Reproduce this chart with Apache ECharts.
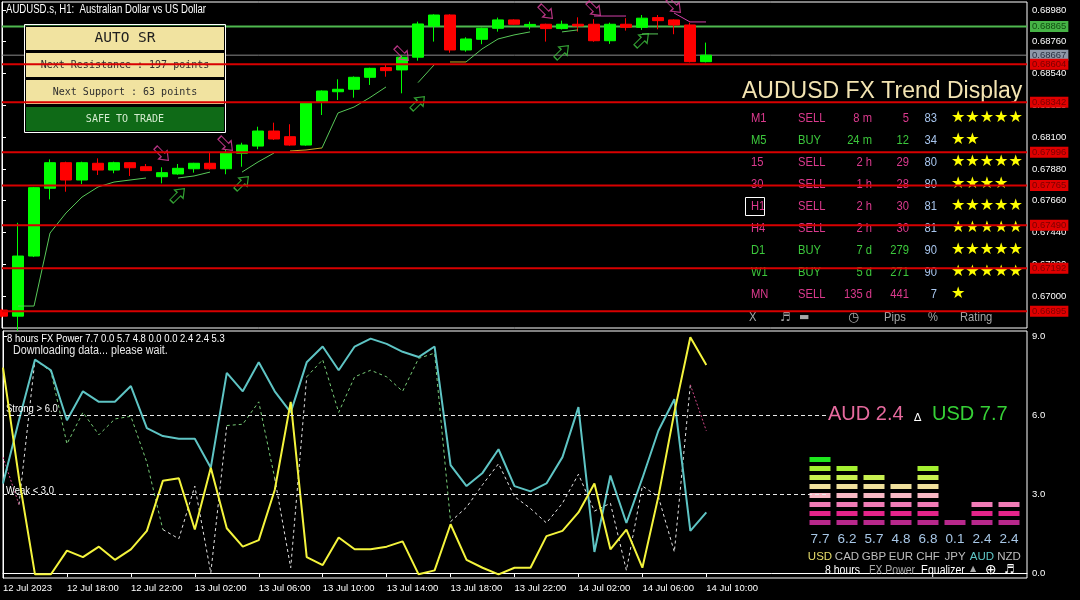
<!DOCTYPE html>
<html><head><meta charset="utf-8">
<script src="https://cdn.jsdelivr.net/npm/echarts@6/dist/echarts.min.js"></script>
<style>html,body{margin:0;padding:0;background:#000;}#c{width:1080px;height:600px;}</style>
</head><body><div id="c"></div>
<script>
// ---------- price candles (H1, index 0 = 12 Jul 14:00) ----------
const opens  = [0.66903,0.66861,0.67277,0.67746,0.67923,0.67803,0.67919,0.67872,0.67923,0.67895,
                0.67826,0.67845,0.67881,0.67919,0.67881,0.67988,0.68038,0.68142,0.68103,0.68045,
                0.68345,0.68414,0.68431,0.68514,0.68581,0.68565,0.68653,0.68869,0.68945,0.68703,
                0.68777,0.68853,0.68911,0.68869,0.68881,0.68851,0.68881,0.68881,0.68767,0.68881,
                0.68860,0.68927,0.68911,0.68876,0.68622];
const closes = [0.66861,0.67277,0.67750,0.67923,0.67803,0.67923,0.67872,0.67923,0.67888,0.67868,
                0.67854,0.67884,0.67919,0.67881,0.67992,0.68045,0.68142,0.68087,0.68045,0.68338,
                0.68419,0.68431,0.68514,0.68576,0.68560,0.68653,0.68883,0.68945,0.68703,0.68779,
                0.68853,0.68911,0.68881,0.68880,0.68851,0.68881,0.68869,0.68767,0.68881,0.68860,
                0.68923,0.68906,0.68876,0.68622,0.68667];
const lows   = [0.66850,0.66760,0.67270,0.67669,0.67722,0.67775,0.67838,0.67850,0.67831,0.67865,
                0.67780,0.67840,0.67854,0.67875,0.67843,0.67895,0.68016,0.68080,0.68040,0.68040,
                0.68253,0.68357,0.68373,0.68461,0.68518,0.68403,0.68629,0.68761,0.68684,0.68691,
                0.68743,0.68830,0.68878,0.68846,0.68761,0.68845,0.68830,0.68760,0.68745,0.68837,
                0.68842,0.68846,0.68812,0.68617,0.68617];
const highs  = [0.66912,0.67507,0.67755,0.67946,0.67930,0.67930,0.67953,0.67930,0.67926,0.67914,
                0.67891,0.67914,0.67922,0.67992,0.68011,0.68061,0.68172,0.68200,0.68189,0.68343,
                0.68423,0.68500,0.68520,0.68580,0.68599,0.68668,0.68899,0.68950,0.68950,0.68791,
                0.68858,0.68927,0.68915,0.68899,0.68885,0.68906,0.68929,0.68916,0.68892,0.68923,
                0.68945,0.68945,0.68915,0.68892,0.68754];

// trailing lines (null = gap)
const greenTrail = [null,0.66931,0.66931,0.67436,0.67575,0.67685,0.67755,0.67789,0.67803,0.67817,
                    null,0.67817,0.67831,0.67858,null,0.67858,0.67928,0.67990,null,null,
                    0.68025,0.68267,0.68308,0.68374,0.68447,null,0.68477,0.68599,null,0.68620,
                    0.68710,0.68779,0.68807,0.68828,null,0.68828,0.68842,null,null,null,
                    0.68814,0.68814,null,null,null];
const yellowTrail = [null,null,null,null,null,null,null,null,null,null,
                     null,null,null,null,null,null,null,null,0.68004,0.68011,
                     0.68025,null,null,null,null,null,null,null,0.68620,0.68620,
                     null,null,null,null,null,null,null,null,null,null,
                     null,null,null,null,null];
const magentaTrail = [null,null,null,null,null,null,null,null,null,null,
                      null,null,null,null,null,null,null,null,null,null,
                      null,null,null,null,null,null,null,null,null,null,
                      null,null,null,null,null,null,null,0.68938,0.68938,0.68938,
                      null,null,0.68959,0.68897,0.68897];

// signal arrows
const sellArrowK = [10,14,25,34,37,42];
const sellArrowP = [0.67983,0.68052,0.68675,0.68966,0.68987,0.69008];
const buyArrowK  = [1,11,15,26,35,40];
const buyArrowP  = [0.66765,0.67699,0.67782,0.68336,0.68689,0.68772];

// support / resistance levels
const resistLevel = 0.68865;
const bidLevel = 0.68667;
const srLevels = [0.68604,0.68342,0.67996,0.67765,0.67490,0.67192,0.66895];

// axes ticks
const priceTicks = [0.67000,0.67220,0.67440,0.67660,0.67880,0.68100,0.68320,0.68540,0.68760,0.68980];
const timeTickK = [0,4,8,12,16,20,24,28,32,36,40,44];
const timeLabels = ['12 Jul 2023','12 Jul 18:00','12 Jul 22:00','13 Jul 02:00','13 Jul 06:00','13 Jul 10:00',
                    '13 Jul 14:00','13 Jul 18:00','13 Jul 22:00','14 Jul 02:00','14 Jul 06:00','14 Jul 10:00'];
const powerTicks = [0,3,6,9];

// FX power panel lines
const usdPower = [3.4,5.8,8.1,7.7,5.8,6.9,6.5,6.5,7.1,5.5, 5.2,5.1,5.1,4.0,7.6,6.9,8.0,6.9,6.1,8.0,
                  8.6,7.7,8.6,8.9,8.7,8.4,8.2,8.6,4.1,3.3, 3.8,4.7,3.3,3.1,3.4,4.4,6.3,0.8,3.7,1.9,
                  3.6,5.4,6.6,1.6,2.3];
const audPower = [7.8,3.6,-0.05,-0.05,0.85,0.6,1.0,0.5,0.9,1.6, 3.5,3.6,1.65,4.0,1.7,1.0,1.25,3.15,6.5,0.6,
                  0.3,1.35,0.9,0.9,1.0,1.2,-0.05,0.1,1.85,0.5, 0.2,-0.05,0.2,0.2,1.4,1.6,2.3,3.4,0.9,1.65,
                  0.2,2.9,6.1,8.95,7.9];
const diffPower = [4.4,2.6,8.1,7.65,4.9,6.1,5.25,5.85,5.95,4.2, 1.65,1.3,3.3,0.0,5.6,5.65,6.5,3.6,0.2,7.45,
                   8.1,6.1,7.45,7.7,7.45,6.9,8.15,8.35,1.95,2.5, 3.35,4.15,2.9,2.45,1.9,2.65,3.75,2.35,2.65,0.1,
                   3.3,2.9,0.8,7.15,5.4];
const diffSegColor = 'pwggggggggwwwwgggwwgggggggggwwwwwwwwwwwwwwwp'.split('');
const strongLevel = 6.0, weakLevel = 3.0;

// equalizer
const eqCurrencies = ['USD','CAD','GBP','EUR','CHF','JPY','AUD','NZD'];
const eqValues = [7.7,6.2,5.7,4.8,6.8,0.1,2.4,2.4];
const eqLevels = [8,7,6,5,7,1,3,3];

// trend table
const tfNames   = ['M1','M5','15','30','H1','H4','D1','W1','MN'];
const tfSignals = ['SELL','BUY','SELL','SELL','SELL','SELL','BUY','BUY','SELL'];
const tfAges    = ['8 m','24 m','2 h','1 h','2 h','2 h','7 d','5 d','135 d'];
const tfPips    = [5,12,29,28,30,30,279,271,441];
const tfPct     = [83,34,80,80,81,81,90,90,7];
const tfStars   = [5,2,5,4,5,5,5,5,1];

// ---------- chart ----------
const FONT = "'Liberation Sans', Arial, sans-serif";
const MONO = "'DejaVu Sans Mono', monospace";
const DJV = "'DejaVu Sans', sans-serif";
const chart = echarts.init(document.getElementById('c'));

const toPts = arr => arr.map((v,k) => v == null ? [k,'-'] : [k,v]);
const XMAX = 64.0625;

const series = [];
function levelLine(v, color, width, z, labBg, labColor){
  series.push({type:'line', xAxisIndex:0, yAxisIndex:0, z, silent:true, showSymbol:false, clip:false,
    data:[[0,v],[XMAX,v]], lineStyle:{color, width, type:'solid'},
    endLabel:{show:true, formatter:()=>v.toFixed(5), backgroundColor:labBg, color:labColor,
      fontSize:9.5, fontFamily:FONT, padding:[1,2,0,2], distance:3}});
}
levelLine(resistLevel, '#4fb84f', 2, 1, '#46b446', '#114d11');
levelLine(bidLevel, '#8a8a8a', 1, 1, '#8e98a8', '#2a3140');
series.push({type:'candlestick', xAxisIndex:0, yAxisIndex:0, z:2, barWidth:11, clip:true,
  encode:{x:0, y:[1,2,3,4]},
  data: opens.map((o,k)=>[k,o,closes[k],lows[k],highs[k]]),
  itemStyle:{color:'#00ff00', color0:'#ff0000', borderColor:'#00ff00', borderColor0:'#ff0000', borderWidth:1}});
series.push({type:'line', xAxisIndex:0, yAxisIndex:0, z:3, data:toPts(greenTrail), showSymbol:false, lineStyle:{color:'#58c858', width:1}});
series.push({type:'line', xAxisIndex:0, yAxisIndex:0, z:3, data:toPts(yellowTrail), showSymbol:false, lineStyle:{color:'#c8a828', width:1}});
series.push({type:'line', xAxisIndex:0, yAxisIndex:0, z:3, data:toPts(magentaTrail), showSymbol:false, lineStyle:{color:'#d040a8', width:1}});
const ARROW = 'path://M5,0 L10,6 L7,6 L7,14 L3,14 L3,6 L0,6 Z';
series.push({type:'scatter', xAxisIndex:0, yAxisIndex:0, z:4, symbol:ARROW, symbolSize:[12,18], symbolRotate:-135,
  data: sellArrowK.map((k,i)=>[k,sellArrowP[i]]), itemStyle:{color:'rgba(0,0,0,0)', borderColor:'#e040a0', borderWidth:1.2}});
series.push({type:'scatter', xAxisIndex:0, yAxisIndex:0, z:4, symbol:ARROW, symbolSize:[12,18], symbolRotate:-45,
  data: buyArrowK.map((k,i)=>[k,buyArrowP[i]]), itemStyle:{color:'rgba(0,0,0,0)', borderColor:'#40c840', borderWidth:1.2}});
srLevels.forEach(v => levelLine(v, '#d80000', 2, 6, '#e00000', '#7a0000'));

const segStyle = {g:{color:'#78cc78', type:[3,3]}, w:{color:'#e4e4e4', type:[3,3]}, p:{color:'#d04888', type:[2,2]}};
['g','w','p'].forEach(c=>{
  const d = [];
  for (let k=0;k<diffSegColor.length;k++){
    if (diffSegColor[k]!==c) continue;
    if (d.length && d[d.length-1][0]!==k) d.push(['-','-']);
    if (!d.length || d[d.length-1][0]!==k) d.push([k,diffPower[k]]);
    d.push([k+1,diffPower[k+1]]);
  }
  series.push({type:'line', xAxisIndex:1, yAxisIndex:1, z:2, data:d, showSymbol:false, connectNulls:false,
    lineStyle:{color:segStyle[c].color, width:1, type:segStyle[c].type}});
});
series.push({type:'line', xAxisIndex:1, yAxisIndex:1, z:3, data:toPts(usdPower), showSymbol:false, lineStyle:{color:'#5ec4c4', width:2}});
series.push({type:'line', xAxisIndex:1, yAxisIndex:1, z:4, data:toPts(audPower), showSymbol:false, lineStyle:{color:'#f4f43c', width:2}});
series.push({type:'line', xAxisIndex:1, yAxisIndex:1, data:[], z:1, silent:true,
  markLine:{silent:true, symbol:'none', animation:false, label:{show:false},
    lineStyle:{color:'#e8e8e8', width:1, type:[4,3]},
    data:[[{coord:[0,strongLevel]},{coord:[51.5,strongLevel]}],[{coord:[0,weakLevel]},{coord:[51.5,weakLevel]}]]}});

const eqColors = ['#b8288c','#e4248a','#f07cb6','#f8b8c4','#f0e09c','#c8f050','#a4f030','#1ee81e'];
for (let L=0; L<8; L++){
  series.push({type:'bar', xAxisIndex:2, yAxisIndex:2, stack:'eq', barWidth:25, z:3,
    data: eqLevels.map(n => L < n ? 1 : '-'),
    itemStyle:{color:eqColors[L], borderColor:'#000', borderWidth:2}});
}

// ---------- graphic texts ----------
const G = [];
function txt(text, x, y, color, size, o={}) {
  const a = o.align || 'left';
  G.push({type:'text', x, y, z:o.z||4, silent:true, scaleX:o.sx||1,
    style:{text, fill:color, font:`${o.weight||'normal'} ${size}px ${o.family||FONT}`,
      textAlign:a, align:a, textVerticalAlign:'middle', verticalAlign:'middle'}});
}
function rect(x,y,w,h,fill,stroke,z){
  G.push({type:'rect', z:z||3, silent:true, shape:{x,y,width:w,height:h}, style:{fill, stroke, lineWidth:1}});
}
txt('AUDUSD.s, H1:  Australian Dollar vs US Dollar', 6, 9.5, '#ffffff', 12, {sx:0.8});

rect(24.5,24.5,201,108,'none','#ffffff',3);
rect(25.5,26.5,199,24,'#f1e3a0','#000',3);
rect(25.5,52.5,199,25,'#f1e3a0','#000',3);
rect(25.5,79.5,199,25,'#f1e3a0','#000',3);
rect(25.5,106.5,199,25,'#0f6a17','#000',3);
txt('AUTO SR', 125, 38.5, '#1e1e1e', 14.5, {align:'center', family:MONO});
txt('Next Resistance : 197 points', 125, 65, '#2e2e2e', 10, {align:'center', family:MONO});
txt('Next Support : 63 points', 125, 92, '#2e2e2e', 10, {align:'center', family:MONO});
txt('SAFE TO TRADE', 125, 119, '#d4ecd0', 10, {align:'center', family:MONO});

txt('AUDUSD FX Trend Display', 742, 92, '#f3e4b2', 23);
const TS = 13, TX = 0.86;
tfNames.forEach((n,i)=>{
  const y = 118.3 + 22*i;
  const col = tfSignals[i]==='BUY' ? '#3cc83c' : '#dc3a8e';
  txt(n, 751, y, col, TS, {sx:TX});
  txt(tfSignals[i], 798, y, col, TS, {sx:TX});
  txt(tfAges[i], 872, y, col, TS, {align:'right', sx:TX});
  txt(String(tfPips[i]), 909, y, col, TS, {align:'right', sx:TX});
  txt(String(tfPct[i]), 937, y, '#a8c6ee', TS, {align:'right', sx:TX});
  txt('★'.repeat(tfStars[i]), 951, y, '#ffff00', 16, {family:DJV});
});
G.push({type:'rect', z:4, silent:true, shape:{x:745.5,y:197.5,width:19,height:18}, style:{fill:'none', stroke:'#ffffff', lineWidth:1}});
const fy = 317.5, fc = '#a8a8a8';
txt('X', 749, fy, fc, 13, {sx:TX});
txt('♬', 780, fy, fc, 12, {family:DJV});
txt('▬', 799, fy, fc, 11, {family:DJV});
txt('◷', 848, fy, fc, 13, {family:DJV});
txt('Pips', 884, fy, fc, 13, {sx:TX});
txt('%', 928, fy, fc, 13, {sx:TX});
txt('Rating', 960, fy, fc, 13, {sx:TX});

txt('8 hours FX Power 7.7 0.0 5.7 4.8 0.0 0.0 2.4 2.4 5.3', 7, 339, '#ffffff', 11, {sx:0.86});
txt('Downloading data... please wait.', 13, 350.5, '#e8e8e8', 12.5, {sx:0.86});
txt('Strong > 6.0', 6, 409, '#ffffff', 11, {sx:0.86});
txt('Weak < 3.0', 6, 491, '#ffffff', 11, {sx:0.86});
txt('AUD ' + eqValues[6].toFixed(1), 828, 414, '#e66a9e', 20);
txt('∆', 914, 418, '#ffffff', 11, {family:DJV});
txt('USD ' + eqValues[0].toFixed(1), 932, 414, '#36d036', 20);
txt('8 hours', 825, 570.5, '#ffffff', 12.5, {sx:0.84});
txt('FX Power', 869, 570.5, '#a8a8a8', 12.5, {sx:0.84});
txt('Equalizer', 921, 570.5, '#ffffff', 12.5, {sx:0.84});
txt('▲', 970, 569, '#a8a8a8', 8, {family:DJV});
txt('⊕', 985, 570, '#ffffff', 14, {family:DJV});
txt('♬', 1004, 570, '#ffffff', 12, {family:DJV});

const option = {
  backgroundColor:'#000000',
  animation:false,
  grid:[
    {left:2, top:2, width:1025, height:326, show:true, borderColor:'#ffffff', borderWidth:1, backgroundColor:'rgba(0,0,0,0)'},
    {left:2, top:331, width:1025, height:247, show:true, borderColor:'#ffffff', borderWidth:1, backgroundColor:'rgba(0,0,0,0)'},
    {left:806.5, top:455, width:216, height:72}
  ],
  xAxis:[
    {type:'value', gridIndex:0, min:0, max:XMAX, show:false},
    {type:'value', gridIndex:1, min:0, max:XMAX, splitLine:{show:false},
      axisLine:{show:true, lineStyle:{color:'#ffffff'}},
      axisTick:{show:true, customValues:timeTickK, length:4, lineStyle:{color:'#ffffff'}},
      axisLabel:{customValues:timeTickK, formatter:v=>timeLabels[timeTickK.indexOf(v)]||'', color:'#ffffff',
        fontSize:9.5, fontFamily:FONT, align:'left', margin:5}},
    {type:'category', gridIndex:2, data:eqCurrencies, axisLine:{show:false}, axisTick:{show:false},
      axisLabel:{interval:0, margin:4,
        formatter:(v,i)=>`{v|${eqValues[i].toFixed(1)}}\n{${v==='USD'?'u':(v==='AUD'?'a':'o')}|${v}}`,
        rich:{
          v:{color:'#a8c8e8', fontSize:13.5, lineHeight:17, fontFamily:FONT},
          u:{color:'#e6dc6a', fontSize:11.5, lineHeight:17, fontFamily:FONT},
          a:{color:'#5fc8c8', fontSize:11.5, lineHeight:17, fontFamily:FONT},
          o:{color:'#bdbdbd', fontSize:11.5, lineHeight:17, fontFamily:FONT}
        }}}
  ],
  yAxis:[
    {type:'value', gridIndex:0, position:'right', min:0.66779, max:0.69035, splitLine:{show:false},
      axisLine:{show:true, lineStyle:{color:'#ffffff'}},
      axisTick:{show:true, customValues:priceTicks, length:4, lineStyle:{color:'#ffffff'}},
      axisLabel:{customValues:priceTicks, formatter:v=>v.toFixed(5), color:'#ffffff', fontSize:9.5, fontFamily:FONT, margin:5}},
    {type:'value', gridIndex:1, position:'right', min:-0.19, max:9.19, splitLine:{show:false},
      axisLine:{show:true, lineStyle:{color:'#ffffff'}},
      axisTick:{show:true, customValues:powerTicks, length:4, lineStyle:{color:'#ffffff'}},
      axisLabel:{customValues:powerTicks, formatter:v=>v.toFixed(1), color:'#ffffff', fontSize:9.5, fontFamily:FONT, margin:5}},
    {type:'value', gridIndex:2, min:0, max:8, show:false}
  ],
  series,
  graphic:{elements:G}
};
chart.setOption(option);
</script>
</body></html>
